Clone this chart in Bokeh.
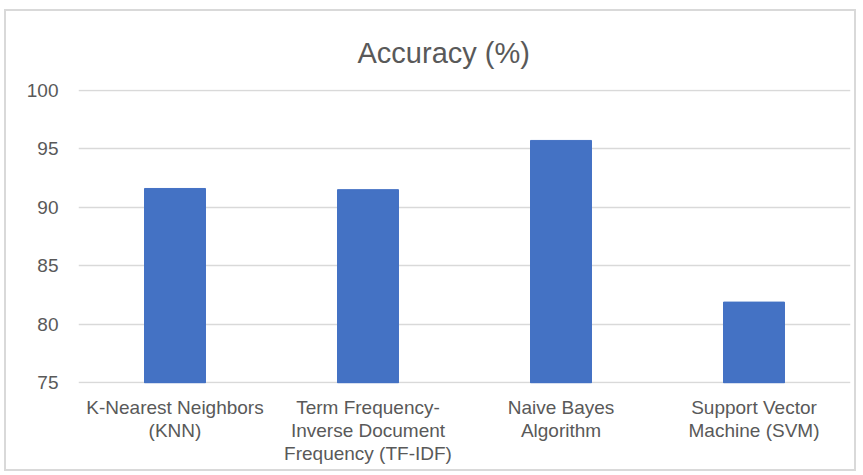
from bokeh.plotting import figure
from bokeh.models import FactorRange, Range1d, Title, ColumnDataSource
from bokeh.embed import file_html
from bokeh.resources import INLINE

categories = ["K-Nearest Neighbors\n(KNN)",
              "Term Frequency-\nInverse Document\nFrequency (TF-IDF)",
              "Naive Bayes\nAlgorithm",
              "Support Vector\nMachine (SVM)"]
accuracy = [91.6, 91.5, 95.7, 81.9]
y_ticks = [75, 80, 85, 90, 95, 100]

FONT = "'Liberation Sans', Arial, sans-serif"
GRAY = "#595959"

src = ColumnDataSource(dict(cat=categories, acc=accuracy))

p = figure(width=852, height=462, output_backend="svg", toolbar_location=None,
           x_range=FactorRange(factors=categories, range_padding=0),
           y_range=Range1d(74.95, 100.05),
           min_border_left=72, min_border_right=8, min_border_top=78,
           min_border_bottom=90)
p.margin = (9, 0, 0, 4)
p.styles = {"border": "2px solid #d9d9d9"}

p.vbar(x="cat", top="acc", bottom=75, width=0.316, source=src,
       fill_color="#4472C4", line_color="#4472C4")

t = Title(text="Accuracy (%)", align="left", text_font=FONT,
          text_font_size="29px", text_color=GRAY, text_font_style="normal",
          standoff=42, offset=279, text_line_height=0.7)
p.add_layout(t, "above")

p.yaxis.ticker = y_ticks
p.yaxis.axis_line_color = None
p.yaxis.major_tick_line_color = None
p.yaxis.minor_tick_line_color = None
p.yaxis.major_label_standoff = 14
p.yaxis.major_label_text_font = FONT
p.yaxis.major_label_text_font_size = "19px"
p.yaxis.major_label_text_color = GRAY

p.xaxis.axis_line_color = None
p.xaxis.major_tick_line_color = None
p.xaxis.major_label_standoff = 7
p.xaxis.major_label_text_font = FONT
p.xaxis.major_label_text_font_size = "19px"
p.xaxis.major_label_text_color = GRAY
p.xaxis.major_label_text_line_height = 1.1

p.xgrid.grid_line_color = None
p.ygrid.grid_line_color = "#d9d9d9"
p.ygrid.grid_line_width = 1.5
p.outline_line_color = None

open("out.html", "w").write(file_html(p, INLINE))
